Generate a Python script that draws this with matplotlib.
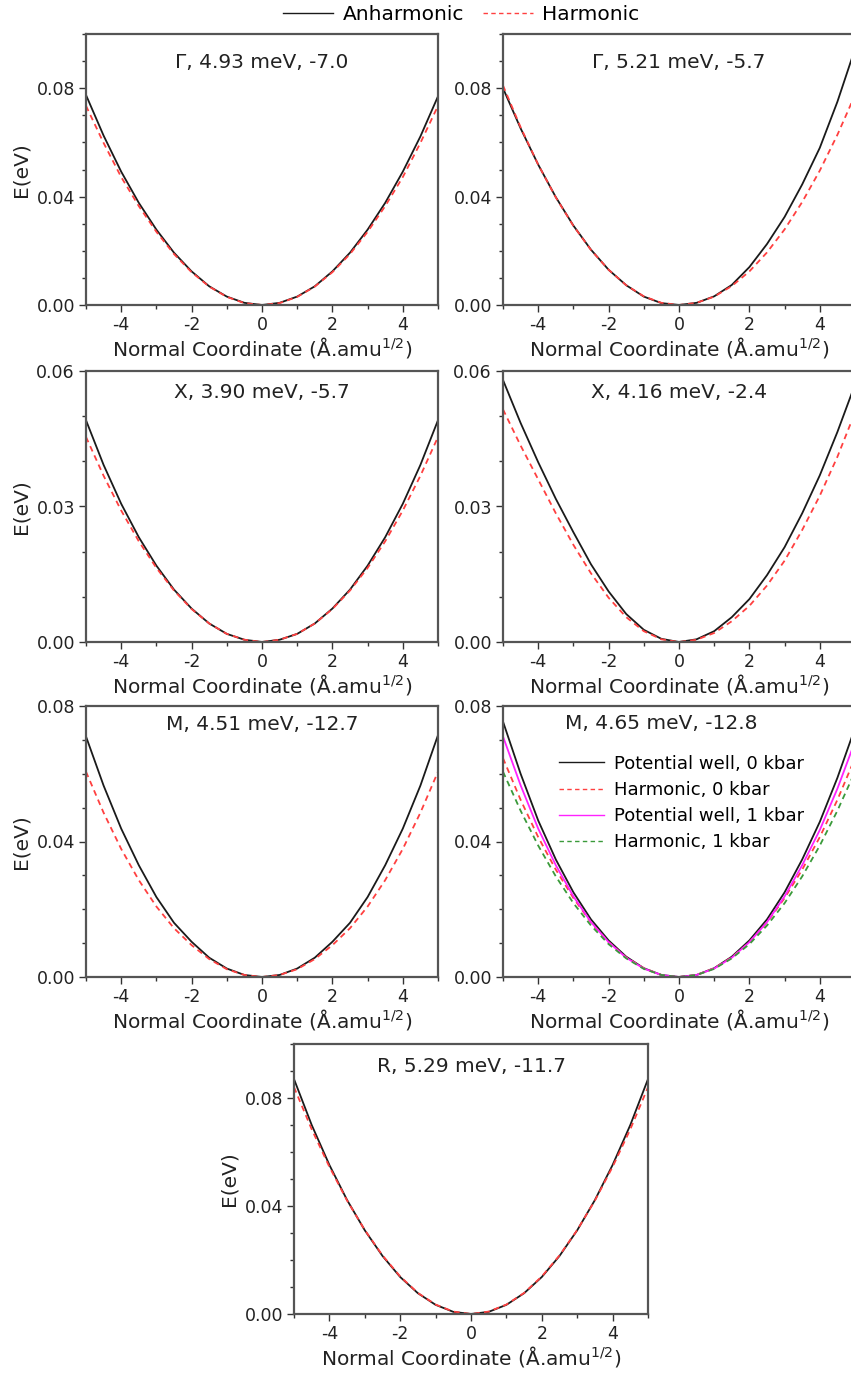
import matplotlib
matplotlib.use("Agg")
import matplotlib.pyplot as plt
from matplotlib.lines import Line2D
from matplotlib.ticker import MultipleLocator, FormatStrFormatter

plt.rcParams['font.family'] = ['DejaVu Sans']
plt.rcParams['mathtext.fontset'] = 'dejavusans'
plt.rcParams['axes.unicode_minus'] = False

# normal coordinate grid (A.amu^1/2)
xs = [-5.0, -4.5, -4.0, -3.5, -3.0, -2.5, -2.0, -1.5, -1.0, -0.5, 0.0,
      0.5, 1.0, 1.5, 2.0, 2.5, 3.0, 3.5, 4.0, 4.5, 5.0]

# energies (eV)
g1_anh = [0.0775, 0.0625, 0.0492, 0.0377, 0.0278, 0.0193, 0.0124, 0.0069, 0.0031, 0.0008, 0.0,
          0.0008, 0.0031, 0.0069, 0.0124, 0.0193, 0.0278, 0.0377, 0.0492, 0.0622, 0.0770]
g1_harm = [0.0735, 0.0598, 0.0472, 0.0365, 0.0270, 0.0188, 0.0121, 0.0068, 0.0030, 0.0007, 0.0,
           0.0007, 0.0030, 0.0068, 0.0121, 0.0188, 0.0270, 0.0365, 0.0472, 0.0598, 0.0735]

g2_anh = [0.0800, 0.0652, 0.0518, 0.0398, 0.0293, 0.0204, 0.0130, 0.0073, 0.0031, 0.0007, 0.0,
          0.0008, 0.0032, 0.0074, 0.0140, 0.0225, 0.0325, 0.0445, 0.0580, 0.0750, 0.0945]
g2_harm = [0.0810, 0.0656, 0.0518, 0.0397, 0.0292, 0.0203, 0.0130, 0.0073, 0.0032, 0.0008, 0.0,
           0.0008, 0.0031, 0.0070, 0.0124, 0.0194, 0.0279, 0.0380, 0.0496, 0.0628, 0.0775]

x1_anh = [0.0491, 0.0392, 0.0306, 0.0232, 0.0169, 0.0116, 0.0074, 0.0041, 0.0018, 0.0005, 0.0,
          0.0005, 0.0018, 0.0041, 0.0074, 0.0116, 0.0169, 0.0232, 0.0306, 0.0392, 0.0491]
x1_harm = [0.0454, 0.0368, 0.0291, 0.0223, 0.0164, 0.0114, 0.0073, 0.0041, 0.0018, 0.0005, 0.0,
           0.0005, 0.0018, 0.0041, 0.0073, 0.0114, 0.0164, 0.0223, 0.0291, 0.0368, 0.0454]

x2_anh = [0.0580, 0.0485, 0.0398, 0.0317, 0.0243, 0.0172, 0.0112, 0.0062, 0.0027, 0.0007, 0.0,
          0.0006, 0.0024, 0.0055, 0.0095, 0.0148, 0.0210, 0.0285, 0.0369, 0.0465, 0.0570]
x2_harm = [0.0515, 0.0435, 0.0360, 0.0285, 0.0215, 0.0152, 0.0098, 0.0055, 0.0024, 0.0006, 0.0,
           0.0005, 0.0020, 0.0046, 0.0080, 0.0125, 0.0180, 0.0248, 0.0324, 0.0410, 0.0508]

m1_anh = [0.0710, 0.0565, 0.0438, 0.0330, 0.0236, 0.0160, 0.0104, 0.0057, 0.0025, 0.0006, 0.0,
          0.0006, 0.0025, 0.0057, 0.0104, 0.0160, 0.0236, 0.0330, 0.0438, 0.0565, 0.0714]
m1_harm = [0.0606, 0.0485, 0.0378, 0.0286, 0.0208, 0.0144, 0.0094, 0.0053, 0.0023, 0.0006, 0.0,
           0.0006, 0.0023, 0.0053, 0.0094, 0.0144, 0.0208, 0.0286, 0.0378, 0.0485, 0.0606]

m2_pot0 = [0.0754, 0.0600, 0.0462, 0.0347, 0.0250, 0.0170, 0.0108, 0.0060, 0.0026, 0.0006, 0.0,
           0.0006, 0.0026, 0.0060, 0.0108, 0.0170, 0.0250, 0.0347, 0.0458, 0.0588, 0.0735]
m2_harm0 = [0.0646, 0.0523, 0.0413, 0.0317, 0.0233, 0.0161, 0.0103, 0.0058, 0.0026, 0.0006, 0.0,
            0.0006, 0.0026, 0.0058, 0.0103, 0.0161, 0.0233, 0.0317, 0.0413, 0.0523, 0.0646]
m2_pot1 = [0.0710, 0.0566, 0.0438, 0.0330, 0.0238, 0.0162, 0.0103, 0.0057, 0.0025, 0.0006, 0.0,
           0.0006, 0.0025, 0.0057, 0.0103, 0.0162, 0.0238, 0.0330, 0.0434, 0.0556, 0.0695]
m2_harm1 = [0.0606, 0.0491, 0.0388, 0.0297, 0.0218, 0.0152, 0.0097, 0.0055, 0.0024, 0.0006, 0.0,
            0.0006, 0.0024, 0.0055, 0.0097, 0.0152, 0.0218, 0.0297, 0.0388, 0.0491, 0.0606]

r_anh = [0.0870, 0.0700, 0.0552, 0.0422, 0.0310, 0.0215, 0.0137, 0.0077, 0.0034, 0.0008, 0.0,
         0.0008, 0.0034, 0.0077, 0.0137, 0.0215, 0.0310, 0.0422, 0.0552, 0.0700, 0.0870]
r_harm = [0.0840, 0.0684, 0.0545, 0.0420, 0.0311, 0.0217, 0.0139, 0.0078, 0.0035, 0.0009, 0.0,
          0.0009, 0.0035, 0.0078, 0.0139, 0.0217, 0.0311, 0.0420, 0.0545, 0.0684, 0.0840]

titles = ["Γ, 4.93 meV, -7.0", "Γ, 5.21 meV, -5.7",
          "X, 3.90 meV, -5.7", "X, 4.16 meV, -2.4",
          "M, 4.51 meV, -12.7", "M, 4.65 meV, -12.8",
          "R, 5.29 meV, -11.7"]
ymax = [0.1, 0.1, 0.06, 0.06, 0.08, 0.08, 0.1]
ymajor = [0.04, 0.04, 0.03, 0.03, 0.04, 0.04, 0.04]
anh_sets = [g1_anh, g2_anh, x1_anh, x2_anh, m1_anh, m2_pot0, r_anh]
harm_sets = [g1_harm, g2_harm, x1_harm, x2_harm, m1_harm, m2_harm0, r_harm]

W, H = 851, 1373
# panel boxes in pixels: left, top, width, height
boxes = [(86, 34, 352, 271), (503, 34, 352, 271),
         (86, 371, 352, 271), (503, 371, 352, 271),
         (86, 706, 352, 271), (503, 706, 352, 271),
         (294, 1044, 354, 270)]
title_y = [0.895, 0.895, 0.92, 0.92, 0.93, 0.935, 0.915]
title_x = [0.5, 0.5, 0.5, 0.5, 0.5, 0.45, 0.5]

BLACK = '#1a1a1a'
RED = '#ff4040'
DASH = (3.2, 2.4)

fig = plt.figure(figsize=(W / 100, H / 100), dpi=100)

for i, (l, t, w, h) in enumerate(boxes):
    ax = fig.add_axes([l / W, 1 - (t + h) / H, w / W, h / H])
    ax.plot(xs, anh_sets[i], color=BLACK, lw=1.3)
    ax.plot(xs, harm_sets[i], color=RED, lw=1.3, dashes=DASH)
    if i == 5:
        ax.plot(xs, m2_pot1, color='#ff22ff', lw=1.3)
        ax.plot(xs, m2_harm1, color='#3a9a3a', lw=1.3, dashes=DASH)
        hs = [Line2D([], [], color=BLACK, lw=1.0),
              Line2D([], [], color=RED, lw=1.0, dashes=DASH),
              Line2D([], [], color='#ff22ff', lw=1.0),
              Line2D([], [], color='#3a9a3a', lw=1.0, dashes=DASH)]
        ax.legend(hs, ["Potential well, 0 kbar", "Harmonic, 0 kbar",
                       "Potential well, 1 kbar", "Harmonic, 1 kbar"],
                  loc='upper left', bbox_to_anchor=(0.159, 0.82), frameon=False,
                  fontsize=13, handlelength=2.5, handletextpad=0.55,
                  labelspacing=0.45, borderaxespad=0, borderpad=0)
    ax.set_xlim(-5, 5)
    ax.set_ylim(0, ymax[i])
    ax.xaxis.set_major_locator(MultipleLocator(2))
    ax.xaxis.set_minor_locator(MultipleLocator(1))
    ax.yaxis.set_major_locator(MultipleLocator(ymajor[i]))
    ax.yaxis.set_minor_locator(MultipleLocator(0.01))
    ax.xaxis.set_major_formatter(FormatStrFormatter('%d'))
    ax.yaxis.set_major_formatter(FormatStrFormatter('%.2f'))
    ax.tick_params(which='both', direction='out', labelsize=12.5, colors='#333333',
                   labelcolor='#222222', width=1.0)
    ax.tick_params(which='major', length=5, pad=3)
    ax.tick_params(which='minor', length=3)
    for s in ax.spines.values():
        s.set_color('#555555')
        s.set_linewidth(1.6)
    ax.set_xlabel('Normal Coordinate (Å.amu$^{1/2}$)', fontsize=14.5, labelpad=0.5,
                  color='#222222')
    if i % 2 == 0:
        ax.set_ylabel('E(eV)', fontsize=14.5, labelpad=4, color='#222222')
    ax.text(title_x[i], title_y[i], titles[i], transform=ax.transAxes,
            ha='center', va='center', fontsize=14.5, color='#222222')

top_handles = [Line2D([], [], color=BLACK, lw=1.0),
               Line2D([], [], color=RED, lw=1.0, dashes=DASH)]
fig.legend(top_handles, ['Anharmonic', 'Harmonic'], loc='center',
           bbox_to_anchor=(0.542, 1 - 15 / H), ncol=2, frameon=False,
           fontsize=14.5, handlelength=2.5, handletextpad=0.45, columnspacing=0.95)

fig.savefig('out.png', dpi=100)
